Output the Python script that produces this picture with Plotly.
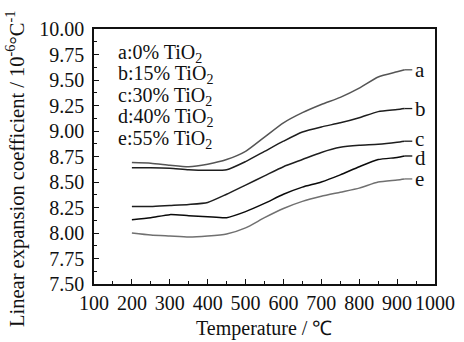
import plotly.graph_objects as go

temps = [200, 250, 300, 350, 400, 450, 500, 550, 600, 650, 700, 750, 800, 850, 900, 920]
series_a = [8.69, 8.685, 8.665, 8.65, 8.675, 8.72, 8.80, 8.94, 9.08, 9.18, 9.26, 9.33, 9.42, 9.53, 9.58, 9.60]
series_b = [8.64, 8.64, 8.635, 8.62, 8.615, 8.62, 8.70, 8.80, 8.90, 8.99, 9.04, 9.08, 9.13, 9.19, 9.21, 9.22]
series_c = [8.26, 8.26, 8.27, 8.28, 8.30, 8.38, 8.47, 8.56, 8.65, 8.72, 8.79, 8.84, 8.86, 8.87, 8.89, 8.90]
series_d = [8.13, 8.15, 8.18, 8.17, 8.16, 8.15, 8.21, 8.29, 8.38, 8.45, 8.50, 8.57, 8.65, 8.72, 8.74, 8.755]
series_e = [8.00, 7.98, 7.97, 7.96, 7.97, 7.99, 8.05, 8.15, 8.24, 8.31, 8.36, 8.40, 8.44, 8.50, 8.52, 8.53]

labels = ["a", "b", "c", "d", "e"]
legend_lines = ["a:0% TiO<sub>2</sub>", "b:15% TiO<sub>2</sub>", "c:30% TiO<sub>2</sub>",
                "d:40% TiO<sub>2</sub>", "e:55% TiO<sub>2</sub>"]
colors = ["#555555", "#1e1e1e", "#1e1e1e", "#0a0a0a", "#707070"]
label_shifts = [0, 0, 2, -2, 0]
all_series = [series_a, series_b, series_c, series_d, series_e]

FONT = "Liberation Serif, Times New Roman, serif"

W, H = 464, 342
L, R, T, B = 94, 29, 29, 58
pw, ph = W - L - R, H - T - B


def px_x(x):
    return (x - L) / pw


def px_y(y):
    return 1 - (y - T) / ph


fig = go.Figure()
for s, c in zip(all_series, colors):
    fig.add_trace(go.Scatter(x=temps, y=s, mode="lines",
                             line=dict(color=c, width=1.5, shape="spline", smoothing=0.6),
                             showlegend=False, hoverinfo="skip"))

annotations = []
shapes = []
for lab, s, c, sh in zip(labels, all_series, colors, label_shifts):
    shapes.append(dict(type="line", xref="x", yref="y", x0=temps[-1], x1=temps[-1] + 20,
                       y0=s[-1], y1=s[-1], line=dict(color=c, width=1.3)))
    annotations.append(dict(x=temps[-1] + 22, y=s[-1], xref="x", yref="y", text=lab, showarrow=False,
                            xanchor="left", yanchor="middle", yshift=sh,
                            font=dict(family=FONT, size=21, color="#111")))

for i, t in enumerate(legend_lines):
    annotations.append(dict(x=px_x(116), y=px_y(53 + i * 21.6), xref="paper", yref="paper", text=t,
                            showarrow=False, xanchor="left", yanchor="middle",
                            font=dict(family=FONT, size=20, color="#111")))

annotations.append(dict(x=px_x(264), y=px_y(328), xref="paper", yref="paper", text="Temperature / ℃",
                        showarrow=False, xanchor="center", yanchor="middle",
                        font=dict(family=FONT, size=20, color="#111")))
annotations.append(dict(x=px_x(15), y=px_y(169), xref="paper", yref="paper",
                        text="Linear expansion coefficient / 10<sup>-6</sup>°C<sup>-1</sup>", showarrow=False,
                        textangle=-90, xanchor="center", yanchor="middle",
                        font=dict(family=FONT, size=20.5, color="#111")))

fig.update_layout(
    width=W, height=H,
    margin=dict(l=L, r=R, t=T, b=B, autoexpand=False),
    plot_bgcolor="white", paper_bgcolor="white",
    annotations=annotations,
    shapes=shapes,
    xaxis=dict(range=[100, 1000], dtick=100, tick0=100, ticks="inside", ticklen=5, tickwidth=1.2,
               tickcolor="#111", showline=True, linecolor="#111", linewidth=1.5, mirror=True,
               showgrid=False, zeroline=False, automargin=False,
               tickfont=dict(family=FONT, size=20, color="#111"),
               minor=dict(dtick=50, ticks="inside", ticklen=3, tickcolor="#111")),
    yaxis=dict(range=[7.5, 10.0], dtick=0.25, tick0=7.5, ticks="inside", ticklen=5, tickwidth=1.2,
               tickcolor="#111", showline=True, linecolor="#111", linewidth=1.5, mirror=True,
               showgrid=False, zeroline=False, tickformat=".2f", automargin=False,
               ticklabelstandoff=4,
               tickfont=dict(family=FONT, size=20, color="#111"),
               minor=dict(dtick=0.125, ticks="inside", ticklen=3, tickcolor="#111")),
)

fig.write_html("out.html", config={"displayModeBar": False},
               post_script="document.body.style.margin='0';")
